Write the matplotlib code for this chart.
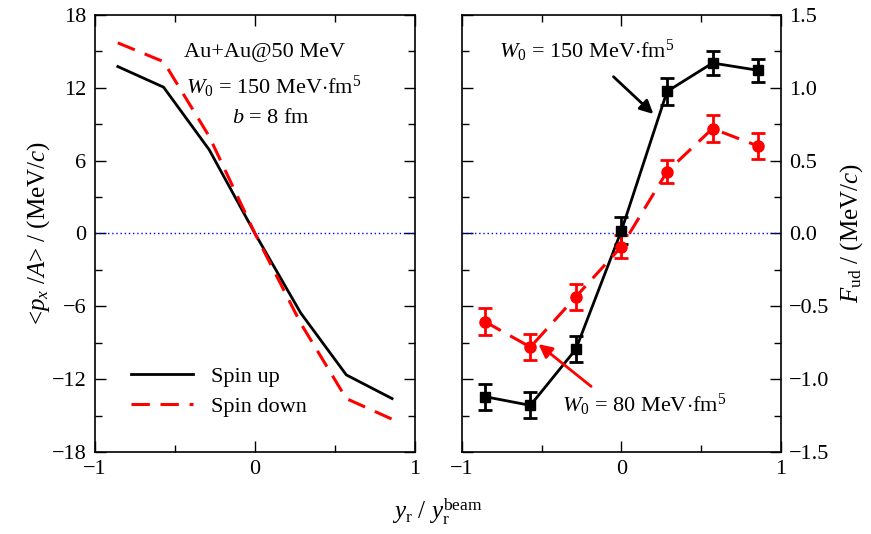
import numpy as np
import matplotlib
matplotlib.use('Agg')
import matplotlib.pyplot as plt
from matplotlib.ticker import MultipleLocator

plt.rcParams['font.family'] = ['Liberation Serif', 'DejaVu Serif']
plt.rcParams['mathtext.fontset'] = 'custom'
plt.rcParams['mathtext.rm'] = 'Liberation Serif'
plt.rcParams['mathtext.it'] = 'Liberation Serif:italic'
plt.rcParams['mathtext.bf'] = 'Liberation Serif:bold'

# rapidity bins
yr = [-0.857, -0.571, -0.286, 0.0, 0.286, 0.571, 0.857]

# left panel: <px/A>
px_up = [13.75, 12.05, 6.9, 0.0, -6.55, -11.65, -13.6]
px_down = [15.7, 14.15, 8.0, 0.0, -7.4, -13.6, -15.3]

# right panel: F_ud
f_150 = [-1.12, -1.18, -0.795, 0.02, 0.975, 1.17, 1.12]
f_150_err = [0.09, 0.09, 0.09, 0.09, 0.09, 0.08, 0.08]
f_80 = [-0.605, -0.78, -0.435, -0.09, 0.425, 0.72, 0.60]
f_80_err = [0.09, 0.09, 0.09, 0.08, 0.08, 0.09, 0.09]

fig = plt.figure(figsize=(8.71, 5.34), dpi=100)
ax1 = fig.add_axes([0.109, 0.1536, 0.3674, 0.8184])
ax2 = fig.add_axes([0.5304, 0.1536, 0.3662, 0.8184])

for ax in (ax1, ax2):
    ax.tick_params(which='both', direction='in', top=True, right=True, left=True,
                   labelsize=16, pad=6)
    ax.tick_params(which='major', length=8, width=1)
    ax.tick_params(which='minor', length=5, width=1)
    ax.set_xlim(-1, 1)
    ax.xaxis.set_major_locator(MultipleLocator(1))
    ax.xaxis.set_minor_locator(MultipleLocator(0.5))
    ax.axhline(0, color='blue', ls=(0, (1, 2)), lw=1)
    for s in ax.spines.values():
        s.set_linewidth(1.2)

# left panel
ax1.plot(yr, px_up, color='black', lw=2, label='Spin up')
ax1.plot(yr, px_down, color='red', lw=2.2, ls=(0, (6, 3.5)), label='Spin down')
ax1.set_ylim(-18, 18)
ax1.yaxis.set_major_locator(MultipleLocator(6))
ax1.yaxis.set_minor_locator(MultipleLocator(3))
ax1.set_yticklabels([f'{int(v)}'.replace('-', '\u2212') for v in ax1.get_yticks()])
ax1.set_xticklabels([f'{int(v)}'.replace('-', '\u2212') for v in ax1.get_xticks()])
ax1.set_ylabel(r'<$p_x$ /$A$> / (MeV/$c$)', fontsize=18, labelpad=0)
ax1.legend(loc='lower left', bbox_to_anchor=(0.05, 0.035), frameon=False, fontsize=16,
           handlelength=2.8, labelspacing=0.4)
ax1.text(0.53, 0.915, 'Au+Au@50 MeV', transform=ax1.transAxes, ha='center', va='center', fontsize=16)
ax1.text(0.56, 0.835, r'$W_0$ = 150 MeV$\cdot$fm$^5$', transform=ax1.transAxes,
         ha='center', va='center', fontsize=16)
ax1.text(0.55, 0.764, r'$b$ = 8 fm', transform=ax1.transAxes, ha='center', va='center', fontsize=16)

# right panel
ax2.errorbar(yr, f_150, yerr=f_150_err, color='black', marker='s', ms=7, lw=2,
             elinewidth=2, capsize=5, capthick=2)
ax2.errorbar(yr, f_80, yerr=f_80_err, color='red', marker='o', ms=8, lw=2.2,
             ls=(0, (6, 3.5)), elinewidth=2, capsize=5, capthick=2)
ax2.set_ylim(-1.5, 1.5)
ax2.yaxis.set_major_locator(MultipleLocator(0.5))
ax2.yaxis.set_minor_locator(MultipleLocator(0.25))
ax2.yaxis.tick_right()
ax2.tick_params(which='both', left=True, labelleft=False, labelright=True)
ax2.yaxis.set_label_position('right')
ax2.set_yticklabels([f'{v:.1f}'.replace('-', '\u2212') for v in ax2.get_yticks()])
ax2.set_xticklabels([f'{int(v)}'.replace('-', '\u2212') for v in ax2.get_xticks()])
ax2.set_ylabel(r'$F_{\rm ud}$ / (MeV/$c$)', fontsize=18, labelpad=6)
ax2.annotate(r'$W_0$ = 150 MeV$\cdot$fm$^5$', xy=(0.2, 0.82), xytext=(-0.22, 1.25),
             ha='center', va='center', fontsize=16,
             arrowprops=dict(arrowstyle='-|>', color='black', lw=2, mutation_scale=20,
                             shrinkA=10, shrinkB=0))
ax2.annotate('', xy=(-0.52, -0.76), xytext=(-0.19, -1.05),
             arrowprops=dict(arrowstyle='-|>', color='red', lw=2, mutation_scale=20,
                             shrinkA=0, shrinkB=0))
ax2.text(0.14, -1.18, r'$W_0$ = 80 MeV$\cdot$fm$^5$', ha='center', va='center', fontsize=16)

fig.text(0.502, 0.028, r'$y_{\rm r}$ / $y_{\rm r}^{\rm beam}$', ha='center', fontsize=18)

fig.savefig('out.png', dpi=100)
